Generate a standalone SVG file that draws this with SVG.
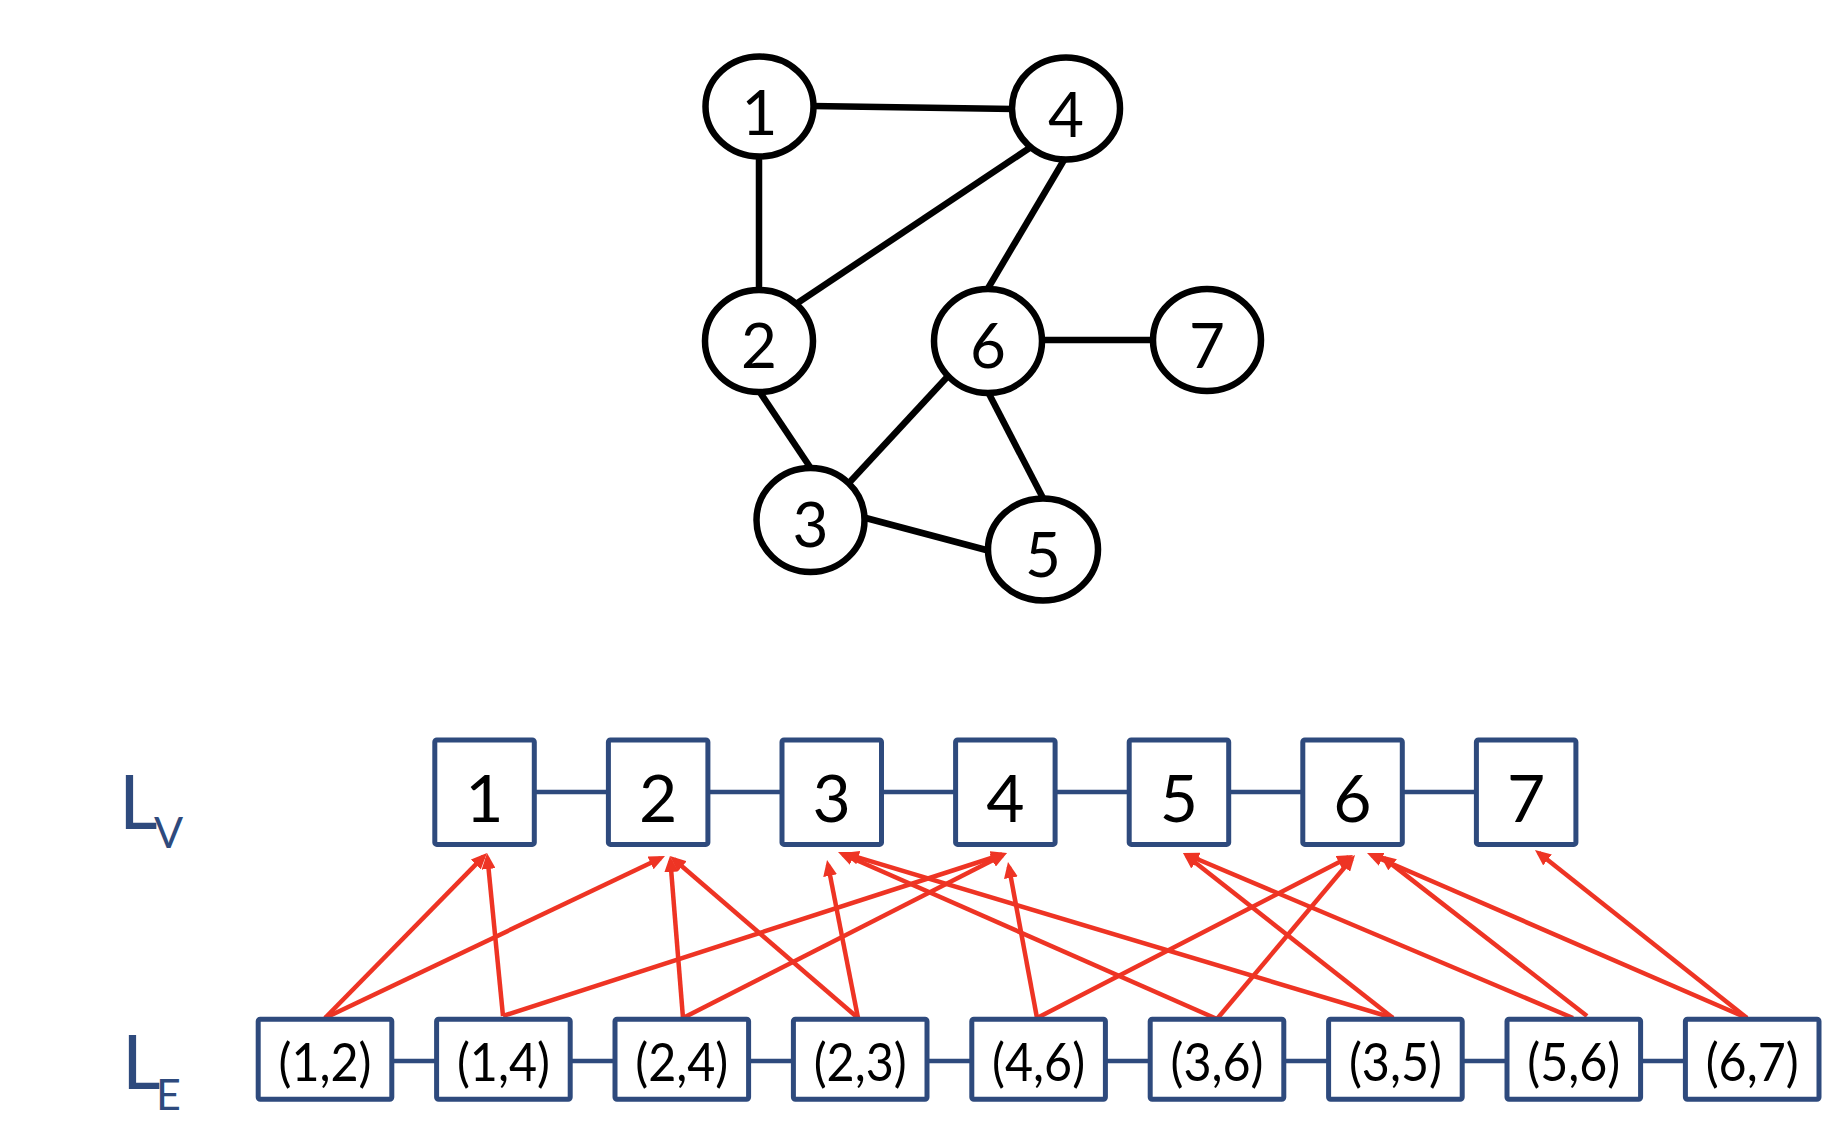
<svg xmlns="http://www.w3.org/2000/svg" width="1846" height="1122" viewBox="0 0 1846 1122">
  <style>
    .edge { stroke: #000; stroke-width: 6.5; fill: none; }
    .vert ellipse { fill: #fff; stroke: #000; stroke-width: 6.5; }
    .vert text { font-family: Lato, "Open Sans", sans-serif; font-size: 62px; fill: #000; text-anchor: middle; }
    .box rect { fill: #fff; stroke: #2E4A7D; stroke-width: 5; }
    .box text { font-family: Lato, "Open Sans", sans-serif; fill: #000; text-anchor: middle; }
    .lv text { font-size: 66px; }
    .le text { font-size: 53px; }
    .link { stroke: #2E4A7D; stroke-width: 4.5; fill: none; }
    .ptr { stroke: #EE3424; stroke-width: 4.5; fill: none; marker-end: url(#head); }
    .lbl { font-family: Lato, "Open Sans", sans-serif; fill: #2E4A7D; }
  </style>
  <defs>
    <marker id="head" viewBox="0 0 16 14" refX="11" refY="7" markerWidth="16" markerHeight="14" markerUnits="userSpaceOnUse" orient="auto">
      <path d="M0,0 L16,7 L0,14 z" fill="#EE3424"/>
    </marker>
  </defs>

  <!-- graph edges -->
  <g id="graph-edges">
    <line class="edge" x1="812" y1="106" x2="1014" y2="109"/>
    <line class="edge" x1="759" y1="155" x2="759" y2="292"/>
    <line class="edge" x1="796" y1="304" x2="1031" y2="147"/>
    <line class="edge" x1="1064" y1="160" x2="987" y2="290"/>
    <line class="edge" x1="1040" y1="340" x2="1156" y2="340"/>
    <line class="edge" x1="757" y1="388" x2="812" y2="470"/>
    <line class="edge" x1="949" y1="375" x2="848" y2="484"/>
    <line class="edge" x1="987" y1="390" x2="1044" y2="500"/>
    <line class="edge" x1="862" y1="517" x2="990" y2="551"/>
  </g>

  <!-- graph vertices -->
  <g id="v1" class="vert"><ellipse cx="759.5" cy="106.5" rx="54" ry="50"/><text x="759.5" y="135">1</text></g>
  <g id="v4" class="vert"><ellipse cx="1066" cy="108.5" rx="54" ry="51"/><text x="1066" y="137">4</text></g>
  <g id="v2" class="vert"><ellipse cx="759" cy="341" rx="54" ry="51"/><text x="759" y="368">2</text></g>
  <g id="v6" class="vert"><ellipse cx="988" cy="341" rx="54" ry="52"/><text x="988" y="368">6</text></g>
  <g id="v7" class="vert"><ellipse cx="1207" cy="340" rx="54" ry="51"/><text x="1207" y="368">7</text></g>
  <g id="v3" class="vert"><ellipse cx="810.5" cy="520" rx="54" ry="52"/><text x="810.5" y="547">3</text></g>
  <g id="v5" class="vert"><ellipse cx="1043" cy="549.5" rx="55" ry="51"/><text x="1043" y="577">5</text></g>

  <!-- list labels -->
  <g id="label-lv">
    <text class="lbl" x="119" y="829" font-size="75">L<tspan x="154" y="848" font-size="43">V</tspan></text>
  </g>
  <g id="label-le">
    <text class="lbl" x="122" y="1089" font-size="75">L<tspan x="156" y="1110" font-size="43">E</tspan></text>
  </g>

  <!-- list links and edge-to-vertex pointers -->
  <g id="connectors">
    <line class="link" x1="534" y1="792" x2="1478" y2="792"/>
    <line class="link" x1="390" y1="1061" x2="1686" y2="1061"/>

    <line class="ptr" x1="325" y1="1018" x2="483.5" y2="856.6"/>
    <line class="ptr" x1="325" y1="1018" x2="660.5" y2="858.2"/>
    <line class="ptr" x1="503" y1="1016" x2="487.5" y2="858"/>
    <line class="ptr" x1="503" y1="1016" x2="1002.2" y2="854.5"/>
    <line class="ptr" x1="683" y1="1018" x2="670.4" y2="861"/>
    <line class="ptr" x1="683" y1="1018" x2="1002.5" y2="855.3"/>
    <line class="ptr" x1="858" y1="1018" x2="673.8" y2="859.3"/>
    <line class="ptr" x1="858" y1="1018" x2="828" y2="864.9"/>
    <line class="ptr" x1="1037" y1="1018" x2="1008.9" y2="866.9"/>
    <line class="ptr" x1="1037" y1="1018" x2="1348.6" y2="857.3"/>
    <line class="ptr" x1="1217" y1="1019" x2="842.6" y2="854"/>
    <line class="ptr" x1="1217" y1="1019" x2="1351.8" y2="858.8"/>
    <line class="ptr" x1="1393" y1="1018" x2="847.8" y2="854.4"/>
    <line class="ptr" x1="1393" y1="1018" x2="1186.9" y2="856.1"/>
    <line class="ptr" x1="1573" y1="1018" x2="1187.6" y2="855"/>
    <line class="ptr" x1="1587" y1="1016" x2="1383.9" y2="858.1"/>
    <line class="ptr" x1="1747" y1="1018" x2="1371.6" y2="855"/>
    <line class="ptr" x1="1747" y1="1018" x2="1538.9" y2="853.1"/>
  </g>

  <!-- vertex list -->
  <g id="lv-1" class="box lv"><rect x="434.8" y="740" width="99.5" height="104.4" rx="2"/><text x="484.5" y="822">1</text></g>
  <g id="lv-2" class="box lv"><rect x="608.4" y="740" width="99.5" height="104.4" rx="2"/><text x="658.1" y="822">2</text></g>
  <g id="lv-3" class="box lv"><rect x="782" y="740" width="99.5" height="104.4" rx="2"/><text x="831.7" y="822">3</text></g>
  <g id="lv-4" class="box lv"><rect x="955.6" y="740" width="99.5" height="104.4" rx="2"/><text x="1005.3" y="822">4</text></g>
  <g id="lv-5" class="box lv"><rect x="1129.2" y="740" width="99.5" height="104.4" rx="2"/><text x="1178.9" y="822">5</text></g>
  <g id="lv-6" class="box lv"><rect x="1302.8" y="740" width="99.5" height="104.4" rx="2"/><text x="1352.5" y="822">6</text></g>
  <g id="lv-7" class="box lv"><rect x="1476.4" y="740" width="99.5" height="104.4" rx="2"/><text x="1526.1" y="822">7</text></g>

  <!-- edge list -->
  <g id="le-12" class="box le"><rect x="258.2" y="1019.2" width="133.6" height="80" rx="2"/><text x="325" y="1081" textLength="93" lengthAdjust="spacingAndGlyphs">(1,2)</text></g>
  <g id="le-14" class="box le"><rect x="436.6" y="1019.2" width="133.6" height="80" rx="2"/><text x="503.4" y="1081" textLength="93" lengthAdjust="spacingAndGlyphs">(1,4)</text></g>
  <g id="le-24" class="box le"><rect x="615" y="1019.2" width="133.6" height="80" rx="2"/><text x="681.8" y="1081" textLength="93" lengthAdjust="spacingAndGlyphs">(2,4)</text></g>
  <g id="le-23" class="box le"><rect x="793.4" y="1019.2" width="133.6" height="80" rx="2"/><text x="860.2" y="1081" textLength="93" lengthAdjust="spacingAndGlyphs">(2,3)</text></g>
  <g id="le-46" class="box le"><rect x="971.8" y="1019.2" width="133.6" height="80" rx="2"/><text x="1038.6" y="1081" textLength="93" lengthAdjust="spacingAndGlyphs">(4,6)</text></g>
  <g id="le-36" class="box le"><rect x="1150.2" y="1019.2" width="133.6" height="80" rx="2"/><text x="1217" y="1081" textLength="93" lengthAdjust="spacingAndGlyphs">(3,6)</text></g>
  <g id="le-35" class="box le"><rect x="1328.6" y="1019.2" width="133.6" height="80" rx="2"/><text x="1395.4" y="1081" textLength="93" lengthAdjust="spacingAndGlyphs">(3,5)</text></g>
  <g id="le-56" class="box le"><rect x="1507" y="1019.2" width="133.6" height="80" rx="2"/><text x="1573.8" y="1081" textLength="93" lengthAdjust="spacingAndGlyphs">(5,6)</text></g>
  <g id="le-67" class="box le"><rect x="1685.4" y="1019.2" width="133.6" height="80" rx="2"/><text x="1752.2" y="1081" textLength="93" lengthAdjust="spacingAndGlyphs">(6,7)</text></g>
</svg>
